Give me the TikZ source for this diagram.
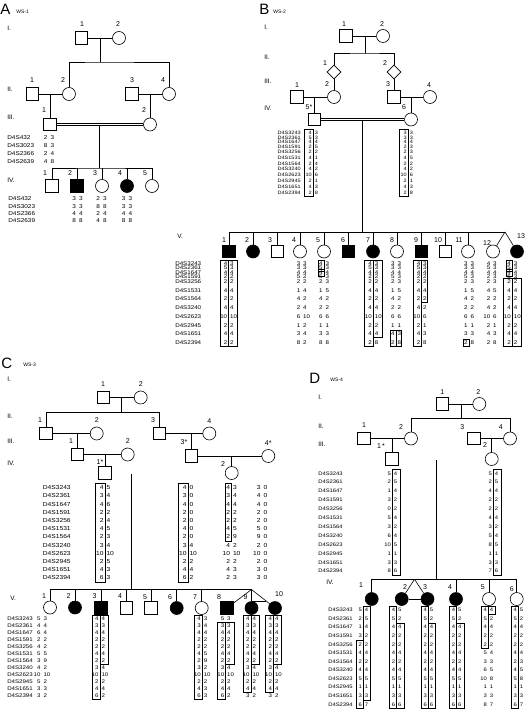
\documentclass[tikz,border=0pt]{standalone}
\usepackage{fontspec}
\setmainfont{Liberation Sans}
\newfontfamily\mkfont[FakeStretch=1.15]{Liberation Sans}
\usetikzlibrary{calc,shapes.geometric}

\tikzstyle{indstyle} = [draw=black, inner sep=0pt]
\tikzstyle{malestyle} = [indstyle, rectangle, minimum size=12.5pt]
\tikzstyle{femalestyle} = [indstyle, circle, minimum size=13pt]
\tikzstyle{unkstyle} = [indstyle, diamond, minimum size=14pt]
\tikzstyle{affstyle} = [fill=black]
\tikzstyle{idnum} = [font=\fontsize{7}{7}\selectfont, inner sep=0pt]
\tikzstyle{genstyle} = [font=\fontsize{6.5}{6.5}\selectfont, inner sep=0pt, anchor=west]
\tikzstyle{panelstyle} = [font=\fontsize{15}{15}\selectfont, inner sep=0pt, anchor=west]
\tikzstyle{famstyle} = [font=\fontsize{5}{5}\selectfont, inner sep=0pt, anchor=west]
\tikzstyle{marker} = [font=\mkfont\fontsize{\hf}{\hf}\selectfont, inner sep=0pt]
\tikzstyle{hapline} = [line width=0.5pt]
\tikzstyle{consang} = [double, double distance=1.3pt, line width=0.5pt]

\def\mlistA{D4S432,D4S3023,D4S2366,D4S2639}
\def\mlist{D4S3243,D4S2361,D4S1647,D4S1591,D4S3256,D4S1531,D4S1564,D4S3240,D4S2623,D4S2945,D4S1651,D4S2394}

% rows of a haplotype block: first y, step, extra step after row 5, half box height, font size
\newcommand{\hapset}[5]{\def\hy{#1}\def\hs{#2}\def\hg{#3}\def\hh{#4}\def\hf{#5}}
\newcommand{\person}[5]{\node (#1) [#2] at (#3) {}; \node (#1n) [idnum] at (#4) {#5};}
\newcommand{\markers}[4]{%
  \foreach \m [count=\i] in #4 {
    \pgfmathsetmacro{\yy}{\hy+(\i-1)*\hs+max(\i-5,0)*\hg}
    \node (#1\i) [marker, anchor=#3] at (#2,\yy) {\m};
  }}
\newcommand{\alleles}[3]{%
  \foreach \a/\b [count=\i] in {#3} {
    \pgfmathsetmacro{\yy}{\hy+(\i-1)*\hs+max(\i-5,0)*\hg}
    \node (#1l\i) [marker, anchor=east] at (#2-1.2,\yy) {\a};
    \node (#1r\i) [marker, anchor=west] at (#2+1.2,\yy) {\b};
  }}
\newcommand{\hapbox}[4]{%
  \pgfmathsetmacro{\ya}{\hy+(#3-1)*\hs+max(#3-5,0)*\hg-\hh}
  \pgfmathsetmacro{\yb}{\hy+(#4-1)*\hs+max(#4-5,0)*\hg+\hh}
  \draw[hapline] (#1,\ya) rectangle (#2,\yb);}

\begin{document}
\begin{tikzpicture}[x=1pt, y=-1pt, line width=0.6pt]
\useasboundingbox (0,0) rectangle (529,719);

% ---------- A
\node (A) [panelstyle] at (0,9) {A};
\node (Aws) [famstyle] at (16,12) {WS-1};
\node (Ag1) [genstyle] at (7,28) {I.};
\node (Ag2) [genstyle] at (7,89) {II.};
\node (Ag3) [genstyle] at (7,117) {III.};
\node (Ag4) [genstyle] at (7,180) {IV.};

\person{a11}{malestyle}{81.5,38}{82,24}{1}
\person{a12}{femalestyle}{119,38}{118,24}{2}
\person{a21}{malestyle}{32.5,94}{32,80}{1}
\person{a22}{femalestyle}{69,94}{63,80}{2}
\person{a23}{malestyle}{132,94}{132,80}{3}
\person{a24}{femalestyle}{169,94}{163,80}{4}
\person{a31}{malestyle}{50,124.5}{44,110}{1}
\person{a32}{femalestyle}{150,124.5}{144,110}{2}
\person{a41}{malestyle}{52,186}{45,173}{1}
\person{a42}{malestyle,affstyle}{77,186}{70,173}{2}
\person{a43}{femalestyle}{102,186}{95,173}{3}
\person{a44}{femalestyle,affstyle}{127,186}{120,173}{4}
\person{a45}{femalestyle}{152,186}{145,173}{5}

\coordinate (am1) at (100,38);
\coordinate (as1) at (100,62);
\coordinate (am2) at (50,94);
\coordinate (am3) at (150,94);
\coordinate (am4) at (99.5,124.5);
\coordinate (as4) at (99.5,168);

\draw (a11) -- (a12);
\draw (am1) -- (as1);
\draw (a22) |- (as1) -| (a24);
\draw (a21) -- (a22);
\draw (am2) -- (a31);
\draw (a23) -- (a24);
\draw (am3) -- (a32);
\draw (am4) -- (as4);
\draw [consang] (a31) -- (a32);
\draw (a41) |- (as4) -| (a45);
\foreach \k in {a42,a43,a44} \draw (\k) -- (\k |- as4);

\hapset{137.3}{8.1}{0}{3}{5.6}
\markers{mA3}{7}{west}{\mlistA}
\alleles{a31h}{49}{2/3,8/3,2/4,4/8}
\hapset{199}{7.2}{0}{3}{5.6}
\markers{mA4}{8}{west}{\mlistA}
\alleles{a42h}{77.5}{3/3,3/3,4/4,8/8}
\alleles{a43h}{101.5}{2/3,8/8,2/4,4/8}
\alleles{a44h}{127}{3/3,3/3,4/4,8/8}

% ---------- B
\node (B) [panelstyle] at (259,9) {B};
\node (Bws) [famstyle] at (273,12) {WS-2};
\node (Bg1) [genstyle] at (264,27) {I.};
\node (Bg2) [genstyle] at (264,57) {II.};
\node (Bg3) [genstyle] at (264,81) {III.};
\node (Bg4) [genstyle] at (264,108) {IV.};
\node (Bg5) [genstyle] at (177,236) {V.};

\person{b11}{malestyle}{346,36}{344,24}{1}
\person{b12}{femalestyle}{383,36}{382,24}{2}
\person{b21}{unkstyle}{334,72}{325,63}{1}
\person{b22}{unkstyle}{394,72}{385,63}{2}
\person{b31}{malestyle}{297,97}{297,85}{1}
\person{b32}{femalestyle}{334,97}{327,84}{2}
\person{b33}{malestyle}{394,97}{388,84}{3}
\person{b34}{femalestyle}{430,97}{429,85}{4}
\person{b45}{malestyle}{314.5,119.5}{309,107}{5*}
\person{b46}{femalestyle}{411,119.5}{404,107}{6}

\person{b51}{malestyle,affstyle}{229,251.5}{224,240}{1}
\person{b52}{femalestyle,affstyle}{253,251.5}{247,240}{2}
\person{b53}{malestyle}{277.5,251.5}{270,240}{3}
\person{b54}{femalestyle}{300,251.5}{294,240}{4}
\person{b55}{femalestyle}{324,251.5}{318,240}{5}
\person{b56}{malestyle,affstyle}{348.5,251.5}{343,240}{6}
\person{b57}{femalestyle,affstyle}{373,251.5}{368,240}{7}
\person{b58}{femalestyle}{397,251.5}{392,240}{8}
\person{b59}{malestyle,affstyle}{421.5,251.5}{416,240}{9}
\person{b510}{malestyle}{445.5,251.5}{438,240}{10}
\person{b511}{femalestyle}{468,251.5}{459,240}{11}
\person{b512}{femalestyle}{493,251.5}{487,243}{12}
\person{b513}{femalestyle,affstyle}{517,251.5}{521,236}{13}

\coordinate (bm1) at (365,36);
\coordinate (bs1) at (365,53);
\coordinate (bm3) at (314.5,97);
\coordinate (bm4) at (411,97);
\coordinate (bm5) at (362.7,119.5);
\coordinate (bs5) at (362.7,232);
\coordinate (bt) at (505,232);

\draw (b11) -- (b12);
\draw (bm1) -- (bs1);
\draw (b21) |- (bs1) -| (b22);
\draw (b21) -- (b32);
\draw (b22) -- (b33);
\draw (b31) -- (b32);
\draw (bm3) -- (b45);
\draw (b33) -- (b34);
\draw (bm4) -- (b46);
\draw (bm5) -- (bs5);
\draw [consang] (b45) -- (b46);
\draw (b51) |- (bt);
\foreach \k in {b52,b53,b54,b55,b56,b57,b58,b59,b510,b511} \draw (\k) -- (\k |- bs5);
\draw (bt) -- (b512);
\draw (bt) -- (b513);

\hapset{132.7}{4.8}{1}{3.6}{4.8}
\markers{mB4}{301}{east}{\mlist}
\alleles{b45h}{313.3}{4/3,5/3,4/4,2/5,2/2,4/1,2/4,4/2,10/6,2/1,4/3,2/8}
\hapbox{304}{313.3}{1}{12}
\alleles{b46h}{408.3}{3/3,3/3,4/4,2/3,2/3,4/5,2/2,4/2,10/6,2/1,4/3,2/8}
\hapbox{399.5}{408.3}{1}{12}

\hapset{263.3}{4.6}{4.1}{3.4}{5.4}
\markers{mB5}{175}{west}{\mlist}
\alleles{b51h}{228.7}{4/3,5/3,4/4,2/2,2/2,4/4,2/2,4/4,10/10,2/2,4/4,2/2}
\hapbox{219.8}{228.7}{1}{12}
\hapbox{228.7}{237.6}{1}{12}
\alleles{b54h}{301.7}{3/3,3/3,4/4,5/2,2/2,1/4,4/2,2/4,6/10,1/2,3/4,8/2}
\alleles{b55h}{324}{4/3,5/3,4/4,5/3,2/3,1/5,4/2,2/2,6/6,1/1,3/3,8/8}
\hapbox{318.3}{324}{1}{2}
\hapbox{318.3}{324}{3}{3}
\alleles{b57h}{373.3}{4/3,5/3,4/4,2/2,2/2,4/4,2/2,4/4,10/10,2/2,4/4,2/8}
\hapbox{364.4}{373.3}{1}{12}
\hapbox{373.3}{382.2}{1}{11}
\alleles{b58h}{396}{3/3,3/3,4/4,5/3,2/3,1/5,4/2,2/2,6/6,1/1,4/3,2/8}
\hapbox{390.3}{396}{11}{12}
\hapbox{396}{401.7}{11}{12}
\alleles{b59h}{421.7}{4/3,5/3,4/4,2/2,2/2,4/4,2/2,4/2,10/6,2/1,4/3,2/8}
\hapbox{412.8}{421.7}{1}{12}
\hapbox{421.7}{427.4}{1}{7}
\alleles{b511h}{469}{3/3,3/3,4/4,5/3,2/3,1/5,4/2,2/2,6/6,1/1,3/3,2/8}
\hapbox{463.3}{469}{12}{12}
\alleles{b512h}{491.7}{4/3,5/3,4/4,2/3,2/3,4/5,2/2,4/2,10/6,2/1,4/3,2/8}
\alleles{b513h}{512.3}{4/3,5/3,4/4,5/3,2/2,4/4,2/2,4/4,10/10,2/2,4/4,2/2}
\hapbox{506.6}{512.3}{1}{2}
\hapbox{506.6}{512.3}{3}{3}
\hapbox{503.4}{512.3}{5}{12}
\hapbox{512.3}{521.2}{5}{12}

% ---------- C
\node (C) [panelstyle] at (1,363) {C};
\node (Cws) [famstyle] at (23,365) {WS-3};
\node (Cg1) [genstyle] at (7,379) {I.};
\node (Cg2) [genstyle] at (7,416) {II.};
\node (Cg3) [genstyle] at (7,441) {III.};
\node (Cg4) [genstyle] at (7,463) {IV.};
\node (Cg5) [genstyle] at (10,598) {V.};

\person{c11}{malestyle}{103.5,397.5}{103,384}{1}
\person{c12}{femalestyle}{140.7,397.5}{140.7,384}{2}
\person{c21}{malestyle}{46,433.5}{40,420}{1}
\person{c22}{femalestyle}{96.7,433.5}{96.7,420}{2}
\person{c23}{malestyle}{159.3,433.5}{153,420}{3}
\person{c24}{femalestyle}{209.3,433.5}{209.3,421}{4}
\person{c31}{malestyle}{77.3,454.5}{71,441}{1}
\person{c32}{femalestyle}{127.7,454.5}{127.7,441}{2}
\person{c33}{malestyle}{191.5,456}{184,442.5}{3*}
\person{c34}{femalestyle}{268.3,456}{268.3,443}{4*}
\person{c41}{malestyle}{105,473}{100,462}{1*}
\person{c42}{femalestyle}{231.7,473}{223,464.5}{2}

\person{c51}{femalestyle}{50,607.5}{44,596}{1}
\person{c52}{femalestyle,affstyle}{75,607.5}{68.5,596}{2}
\person{c53}{malestyle,affstyle}{101,608}{94.5,596}{3}
\person{c54}{malestyle}{126.5,608}{120,596}{4}
\person{c55}{malestyle}{151,608}{145,597}{5}
\person{c56}{femalestyle,affstyle}{176.7,608}{170,597}{6}
\person{c57}{femalestyle}{201.7,608}{195,597}{7}
\person{c58}{malestyle,affstyle}{227,608}{219,597}{8}
\person{c59}{femalestyle,affstyle}{251.5,608}{245.5,597}{9}
\person{c510}{femalestyle,affstyle}{275,608}{279,594}{10}

\coordinate (cm1) at (121.7,397.5);
\coordinate (cs1) at (121.7,412.3);
\coordinate (cm2) at (77.3,433.5);
\coordinate (cm3) at (191.5,433.5);
\coordinate (cm4) at (105,454.5);
\coordinate (cm5) at (231.7,456);
\coordinate (cm6) at (131,473);
\coordinate (cs6) at (131,589.5);
\coordinate (ct) at (251.5,589.5);

\draw (c11) -- (c12);
\draw (cm1) -- (cs1);
\draw (c21) |- (cs1) -| (c23);
\draw (c21) -- (c22);
\draw (cm2) -- (c31);
\draw (c23) -- (c24);
\draw (cm3) -- (c33);
\draw (c31) -- (c32);
\draw (cm4) -- (c41);
\draw (c33) -- (c34);
\draw (cm5) -- (c42);
\draw (cm6) -- (cs6);
\draw [consang] (c41) -- (c42);
\draw (c51) |- (ct);
\foreach \k in {c52,c53,c54,c55,c56,c57} \draw (\k) -- (\k |- cs6);
\draw (ct) -- (c58);
\draw (ct) -- (c59);
\draw (ct) -- (c510);
\draw ($(ct)!0.62!(c59)$) -- ($(ct)!0.62!(c510)$);

\hapset{487.7}{8.2}{0}{4.3}{5.8}
\markers{mC4}{71}{east}{\mlist}
\alleles{c41h}{105}{4/5,3/4,4/6,2/2,2/4,4/5,2/3,3/4,10/10,2/5,4/3,6/3}
\hapbox{95.5}{105}{1}{12}
\alleles{cxh}{188}{4/0,3/0,4/0,2/0,2/0,4/0,2/0,3/4,10/10,2/2,4/4,6/2}
\hapbox{178.5}{188}{1}{12}
\alleles{c42h}{231.5}{4/3,3/4,4/4,2/2,2/2,4/5,2/9,4/2,10/10,2/2,4/3,2/3}
\hapbox{225}{231.5}{1}{7}
\alleles{cyh}{262}{3/0,4/0,4/0,2/0,2/0,5/0,9/0,2/0,10/0,2/0,3/0,3/0}

\hapset{619}{7.0}{0}{3.6}{5.3}
\markers{mC5}{7}{west}{\mlist}
\alleles{c51h}{42}{5/3,4/4,6/4,2/2,4/2,5/5,3/9,4/2,10/10,5/2,3/3,3/2}
\alleles{c53h}{100}{4/4,3/3,4/4,2/2,2/2,4/4,2/2,3/4,10/10,2/2,4/4,6/2}
\hapbox{91.8}{100}{1}{12}
\hapbox{100}{108.2}{1}{7}
\alleles{c57h}{202.3}{4/3,3/4,4/4,2/2,2/2,4/5,2/9,3/2,10/10,2/2,4/3,6/3}
\hapbox{194.1}{202.3}{1}{12}
\alleles{c58h}{225.7}{5/3,3/3,4/4,2/2,2/2,4/4,2/2,3/4,10/10,2/2,4/4,6/2}
\hapbox{217.5}{225.7}{2}{12}
\hapbox{225.7}{233.9}{2}{7}
\alleles{c59h}{251}{4/4,3/3,4/4,2/2,2/2,4/4,2/2,3/4,10/10,2/2,4/4,3/2}
\hapbox{242.8}{251}{1}{11}
\hapbox{251}{259.2}{1}{7}
\alleles{c510h}{273.5}{4/4,3/3,4/4,2/2,2/2,4/4,2/2,3/4,10/10,2/2,4/4,3/2}
\hapbox{265.3}{273.5}{1}{11}
\hapbox{273.5}{281.7}{1}{7}

% ---------- D
\node (D) [panelstyle] at (309,378) {D};
\node (Dws) [famstyle] at (330,380) {WS-4};
\node (Dg1) [genstyle] at (318,397) {I.};
\node (Dg2) [genstyle] at (318,426) {II.};
\node (Dg3) [genstyle] at (318,444) {III.};
\node (Dg4) [genstyle] at (326,582) {IV.};

\person{d11}{malestyle}{442.3,404}{442.3,391.7}{1}
\person{d12}{femalestyle}{479.3,404}{478.3,391.7}{2}
\person{d21}{malestyle}{364,438.5}{364,425}{1}
\person{d22}{femalestyle}{411,438.5}{401,426.7}{2}
\person{d23}{malestyle}{473.7,438.5}{462.3,426.7}{3}
\person{d24}{femalestyle}{510,438.5}{500.7,426.7}{4}
\person{d31}{malestyle}{392,459}{381,446}{1\,*}
\person{d32}{femalestyle}{491.7,459}{485,445.5}{2}

\person{d41}{femalestyle,affstyle}{371.7,599}{361,585.5}{1}
\person{d42}{femalestyle,affstyle}{401.7,599}{405,587}{2}
\person{d43}{femalestyle,affstyle}{427.5,599}{425,587}{3}
\person{d44}{femalestyle,affstyle}{456,599}{450,587}{4}
\person{d45}{femalestyle}{489,599}{482.7,587}{5}
\person{d46}{femalestyle}{516.7,599}{511.7,589}{6}

\coordinate (dm1) at (461,404);
\coordinate (ds1) at (461,418.3);
\coordinate (dm2) at (392,438.5);
\coordinate (dm3) at (491.7,438.5);
\coordinate (dm4) at (436.7,459);
\coordinate (ds4) at (436.7,579.3);
\coordinate (dt) at (414.5,579.3);

\draw (d11) -- (d12);
\draw (dm1) -- (ds1);
\draw (d22) |- (ds1) -| (d24);
\draw (d21) -- (d22);
\draw (dm2) -- (d31);
\draw (d23) -- (d24);
\draw (dm3) -- (d32);
\draw (dm4) -- (ds4);
\draw [consang] (d31) -- (d32);
\draw (d41) |- (ds4) -| (d46);
\draw (dt) -- (d42);
\draw (dt) -- (d43);
\draw (d42) -- (d43);
\draw (d44) -- (d44 |- ds4);
\draw (d45) -- (d45 |- ds4);

\hapset{473.3}{8.9}{0}{4.2}{5.1}
\markers{mD3}{318}{west}{\mlist}
\alleles{d31h}{392.3}{5/4,2/5,1/4,3/2,0/2,5/4,3/2,6/4,10/5,1/1,3/3,8/6}
\hapbox{392.3}{399.8}{1}{12}
\alleles{d32h}{493.3}{5/4,2/5,4/4,2/2,2/2,4/4,3/2,5/4,8/5,1/1,3/3,7/6}
\hapbox{493.3}{500.8}{1}{12}

\hapset{610}{8.57}{0}{4.1}{5.1}
\markers{mD4}{328}{west}{\mlist}
\alleles{d41h}{363.3}{5/4,2/5,1/4,3/2,2/2,4/4,2/2,4/4,5/5,1/1,3/3,6/7}
\hapbox{363.3}{370.5}{1}{11}
\hapbox{356.1}{363.3}{5}{12}
\alleles{d42h}{396.7}{4/5,5/2,4/4,2/2,2/2,4/4,2/2,4/4,5/5,1/1,3/3,6/6}
\hapbox{389.5}{396.7}{1}{12}
\hapbox{396.7}{403.9}{3}{12}
\alleles{d43h}{428.3}{4/5,5/2,4/4,2/2,2/2,4/4,2/2,4/4,5/5,1/1,3/3,6/6}
\hapbox{421.1}{428.3}{1}{12}
\hapbox{428.3}{435.5}{3}{12}
\alleles{d44h}{456.7}{4/5,5/2,4/4,2/2,2/2,4/4,2/2,4/4,5/5,1/1,3/3,6/6}
\hapbox{449.5}{456.7}{1}{12}
\hapbox{456.7}{463.9}{3}{12}
\alleles{d45h}{488.3}{4/4,5/2,4/4,2/2,2/2,5/4,3/3,6/5,10/8,1/1,3/3,8/7}
\hapbox{481.1}{488.3}{1}{5}
\hapbox{488.3}{495.5}{1}{1}
\alleles{d46h}{518.3}{4/5,5/2,4/4,2/2,2/2,4/4,2/3,4/5,5/8,1/1,3/3,6/7}
\hapbox{511.1}{518.3}{1}{12}
\end{tikzpicture}
\end{document}
